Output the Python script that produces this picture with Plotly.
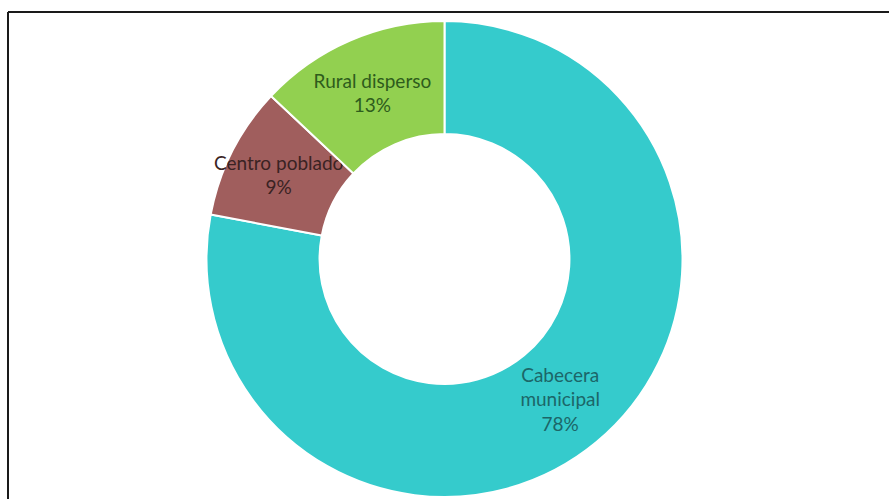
import plotly.graph_objects as go

# Population share by area type
labels = ["Cabecera municipal", "Centro poblado", "Rural disperso"]
label_lines = ["Cabecera<br>municipal", "Centro poblado", "Rural disperso"]
shares = [78, 9, 13]

slice_colors = ["#35CBCC", "#A05E5D", "#92D050"]
text_colors = ["#1C6668", "#3A2323", "#2E5C1C"]

W, H = 889, 499

fig = go.Figure(
    go.Pie(
        labels=labels,
        values=shares,
        text=label_lines,
        texttemplate="%{text}<br>%{percent:.0%}",
        textposition="inside",
        insidetextorientation="horizontal",
        hole=0.525,
        sort=False,
        direction="clockwise",
        rotation=0,
        marker=dict(colors=slice_colors, line=dict(color="white", width=2)),
        textfont=dict(family="Lato, Carlito, Calibri, sans-serif", size=19, color=text_colors),
        showlegend=False,
        hoverinfo="label+percent",
        domain=dict(x=[0, 1], y=[2 / H, 478 / H]),
    )
)

# Frame lines along the top and left edges
frame_top = 1 - 12 / H
frame_left = 8 / W
fig.add_shape(type="line", xref="paper", yref="paper",
              x0=frame_left, x1=1, y0=frame_top, y1=frame_top,
              line=dict(color="#1a1a1a", width=2))
fig.add_shape(type="line", xref="paper", yref="paper",
              x0=frame_left, x1=frame_left, y0=0, y1=frame_top,
              line=dict(color="#1a1a1a", width=2))

fig.update_layout(
    width=W,
    height=H,
    margin=dict(l=0, r=0, t=0, b=0),
    paper_bgcolor="white",
    plot_bgcolor="white",
    uniformtext=dict(minsize=19, mode="show"),
)

fig.write_html("out.html")
